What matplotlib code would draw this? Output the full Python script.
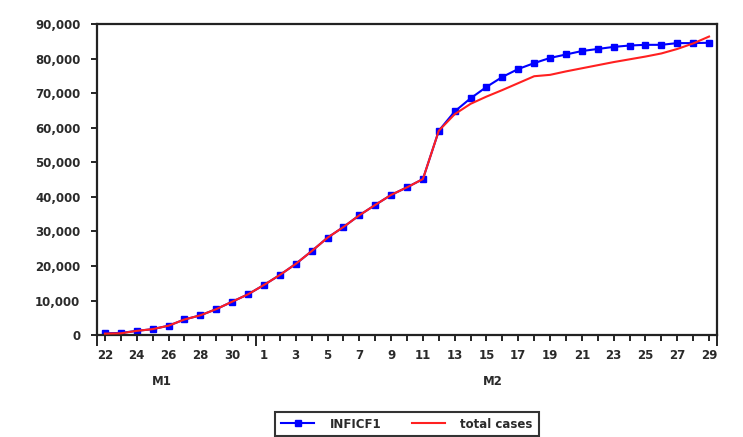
import numpy as np
import matplotlib
matplotlib.use('Agg')
import matplotlib.pyplot as plt
import matplotlib.ticker as mticker
import matplotlib.transforms as mtransforms

# Data (Jan 22 .. Feb 29)
days = ['22', '23', '24', '25', '26', '27', '28', '29', '30', '31',
        '1', '2', '3', '4', '5', '6', '7', '8', '9', '10',
        '11', '12', '13', '14', '15', '16', '17', '18', '19', '20',
        '21', '22', '23', '24', '25', '26', '27', '28', '29']
month_labels = ['M1', 'M2']
month_label_pos = [3.6, 24.4]

inficf1 = [500, 600, 1200, 1700, 2700, 4500, 5700, 7500, 9650, 11800,
           14500, 17400, 20600, 24300, 28200, 31300, 34700, 37700, 40600, 42800,
           45200, 59200, 64800, 68600, 71900, 74800, 77100, 78800, 80300, 81300,
           82300, 82900, 83500, 83900, 84100, 84100, 84600, 84600, 84700]
total_cases = [400, 500, 1200, 1700, 2700, 4500, 5700, 7500, 9650, 11800,
               14500, 17400, 20600, 24300, 28200, 31300, 34700, 37700, 40600, 42800,
               45200, 59200, 64000, 67000, 69100, 71000, 73000, 75000, 75400, 76400,
               77300, 78200, 79100, 79900, 80700, 81600, 82900, 84500, 86500]

x = np.arange(len(days))
txt_color = '#2a2a2a'
fsize = 8.5

plt.rcParams['font.family'] = ['DejaVu Sans']
plt.rcParams['font.weight'] = 'bold'

fig = plt.figure(figsize=(7.43, 4.37), dpi=100)
ax = fig.add_axes([0.1306, 0.2334, 0.8344, 0.7106])

ax.plot(x, inficf1, color='#0000ff', lw=1.5, marker='s', ms=4.5,
        mec='#0000ff', mfc='#0000ff', label='INFICF1', zorder=2)
ax.plot(x, total_cases, color='#ff2020', lw=1.5, label='total cases', zorder=3)

# axes ranges
ax.set_xlim(-0.5, len(days) - 0.5)
ax.set_ylim(0, 90000)

# y axis
ax.set_yticks(np.arange(0, 90001, 10000))
ax.yaxis.set_major_formatter(mticker.FuncFormatter(lambda v, p: '{:,.0f}'.format(v)))
ax.tick_params(axis='y', direction='out', length=4, width=1.2, pad=8,
               labelsize=fsize, labelcolor=txt_color)

# x axis: daily ticks, labels every 2 days; long ticks at month bounds
ax.set_xticks(x, minor=True)
ax.set_xticklabels([d if i % 2 == 0 else '' for i, d in enumerate(days)], minor=True)
ax.set_xticks([-0.5, 9.5, len(days) - 0.5])
ax.set_xticklabels(['', '', ''])
ax.tick_params(axis='x', which='minor', direction='out', length=4, width=1.2,
               pad=6, labelsize=fsize, labelcolor=txt_color)
ax.tick_params(axis='x', which='major', direction='out', length=8, width=1.2)

for s in ax.spines.values():
    s.set_linewidth(1.6)
    s.set_color('#222222')

trans = mtransforms.blended_transform_factory(ax.transData, ax.transAxes)
for lab, pos in zip(month_labels, month_label_pos):
    ax.text(pos, -0.151, lab, transform=trans, ha='center', va='center',
            fontsize=fsize, color=txt_color)

leg = fig.legend(loc='center', bbox_to_anchor=(407 / 743, 1 - 424 / 437),
                 ncol=2, fontsize=fsize, frameon=True, fancybox=False,
                 handlelength=2.8, columnspacing=2.6, borderpad=0.5,
                 handletextpad=1.3)
leg.get_frame().set_edgecolor('black')
leg.get_frame().set_linewidth(1.5)
for t in leg.get_texts():
    t.set_color(txt_color)

plt.savefig('out.png', dpi=100)
